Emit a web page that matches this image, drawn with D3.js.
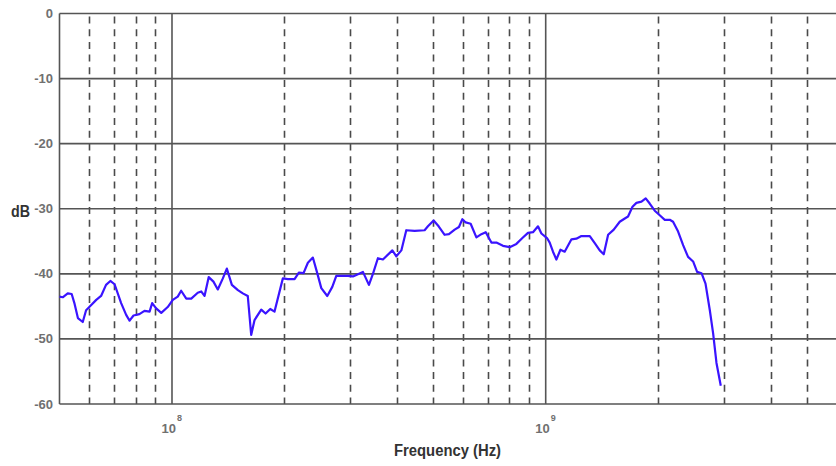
<!DOCTYPE html>
<html>
<head>
<meta charset="utf-8">
<script src="https://cdn.jsdelivr.net/npm/d3@7"></script>
<style>
  html, body { margin: 0; padding: 0; background: #fff; }
  svg { display: block; }
  text { font-family: "Liberation Sans", Arial, sans-serif; }
</style>
</head>
<body>
<svg id="chart" width="836" height="466"></svg>
<script>
// ---- data ----
const freqMHz = [50.0, 51.0, 52.6, 53.9, 54.8, 56.0, 57.7, 58.9, 60.8, 62.7, 64.6, 66.6, 68.4, 70.2, 73.1, 75.4, 77.0, 78.9, 81.8, 84.4,
  87.1, 88.5, 90.7, 93.6, 97.4, 100.5, 103.6, 105.8, 109.2, 112.6, 117.2, 119.7, 122.2, 125.4, 129.1, 132.6, 136.8, 140.2, 144.6, 150.1,
  154.7, 159.5, 162.9, 166.3, 173.3, 178.0, 183.2, 188.1, 198.0, 204.2, 212.8, 218.5, 224.9, 231.0, 238.2, 244.2, 250.9, 260.3, 268.5, 275.2,
  295.6, 304.9, 324.3, 336.5, 344.9, 355.6, 366.8, 388.7, 398.4, 410.9, 423.6, 445.9, 474.2, 484.0, 501.3, 517.0, 536.5, 550.9, 570.7, 586.0,
  598.4, 610.7, 629.8, 652.4, 672.8, 691.0, 715.6, 737.9, 768.6, 801.0, 834.7, 866.2, 896.6, 924.7, 953.7, 973.9, 1008, 1025, 1046, 1068,
  1095, 1124, 1172, 1208, 1246, 1312, 1353, 1395, 1430, 1469, 1521, 1578, 1628, 1661, 1707, 1749, 1804, 1852, 1898, 1958,
  2019, 2083, 2148, 2192, 2261, 2332, 2404, 2480, 2542, 2612, 2677, 2749, 2805, 2864, 2941];
const levelDB = [-43.5, -43.6, -43.0, -43.1, -44.5, -46.8, -47.4, -45.6, -44.8, -44.0, -43.4, -41.7, -41.1, -41.6, -44.5, -46.3, -47.2, -46.4, -46.2, -45.7,
  -45.8, -44.5, -45.3, -46.0, -45.1, -44.0, -43.5, -42.6, -43.8, -43.8, -42.9, -42.7, -43.4, -40.5, -41.2, -42.4, -40.7, -39.2, -41.7, -42.5,
  -43.0, -43.4, -49.4, -47.1, -45.5, -46.1, -45.4, -45.8, -40.7, -40.8, -40.8, -39.8, -39.9, -38.3, -37.5, -39.7, -42.2, -43.4, -42.0, -40.3,
  -40.3, -40.4, -39.7, -41.7, -40.0, -37.6, -37.8, -36.4, -37.3, -36.4, -33.3, -33.4, -33.3, -32.7, -31.8, -32.7, -34.0, -33.9, -33.2, -32.8,
  -31.6, -32.1, -32.3, -34.4, -33.9, -33.6, -35.2, -35.2, -35.7, -35.9, -35.4, -34.5, -33.7, -33.6, -32.7, -33.8, -34.5, -35.2, -36.6, -37.8,
  -36.3, -36.6, -34.7, -34.6, -34.2, -34.2, -35.3, -36.4, -37.0, -34.0, -33.2, -32.0, -31.5, -31.2, -29.7, -29.1, -28.9, -28.4, -29.2, -30.3,
  -31.0, -31.7, -31.7, -32.0, -33.5, -35.6, -37.4, -38.1, -39.7, -39.9, -41.5, -45.6, -49.1, -53.7, -57.2];
const yTicks = [0, -10, -20, -30, -40, -50, -60];
const majorFreqs = [1e8, 1e9];
const majorExps = ["8", "9"];
const minorFreqs = [6e7, 7e7, 8e7, 9e7, 2e8, 3e8, 4e8, 5e8, 6e8, 7e8, 8e8, 9e8, 2e9, 3e9, 4e9, 5e9];
const xDomain = [5e7, 6e9];
const yDomain = [-60, 0];

// ---- layout ----
const mLeft = 59.5, mRight = 836.5, mTop = 13.5, mBottom = 404;
const svg = d3.select("#chart");
const x = d3.scaleLog().domain(xDomain).range([mLeft, mRight]);
const y = d3.scaleLinear().domain(yDomain).range([mBottom, mTop]);

const grid = svg.append("g");
// dashed minor verticals
grid.selectAll("line.minor").data(minorFreqs).join("line")
  .attr("class", "minor")
  .attr("x1", d => Math.round(x(d)) + 0.5).attr("x2", d => Math.round(x(d)) + 0.5)
  .attr("y1", mTop + 3).attr("y2", mBottom)
  .attr("stroke", "#4a4a4a").attr("stroke-width", 1.6)
  .attr("stroke-dasharray", "7,5.7");
// horizontal solid gridlines
grid.selectAll("line.h").data(yTicks).join("line")
  .attr("class", "h")
  .attr("x1", mLeft).attr("x2", 836)
  .attr("y1", d => y(d)).attr("y2", d => y(d))
  .attr("stroke", "#555").attr("stroke-width", 1.6);
// major verticals
grid.selectAll("line.major").data(majorFreqs).join("line")
  .attr("class", "major")
  .attr("x1", d => x(d)).attr("x2", d => x(d))
  .attr("y1", mTop).attr("y2", mBottom)
  .attr("stroke", "#555").attr("stroke-width", 1.6);
// left border
grid.append("line")
  .attr("x1", mLeft).attr("x2", mLeft).attr("y1", mTop).attr("y2", mBottom)
  .attr("stroke", "#555").attr("stroke-width", 1.6);

// y tick labels
svg.append("g").selectAll("text").data(yTicks).join("text")
  .attr("x", 53).attr("y", d => y(d) + 4.5)
  .attr("text-anchor", "end")
  .attr("font-size", 13).attr("font-weight", "bold")
  .attr("fill", "#707070")
  .text(d => d);

// x tick labels (10^n)
const xl = svg.append("g").selectAll("g").data(majorFreqs).join("g")
  .attr("transform", d => `translate(${x(d)},0)`);
xl.append("text")
  .attr("x", -10.5).attr("y", 433)
  .attr("font-size", 13).attr("font-weight", "bold").attr("fill", "#707070")
  .text("10");
xl.append("text")
  .attr("x", 5).attr("y", 421)
  .attr("font-size", 9).attr("font-weight", "bold").attr("fill", "#707070")
  .text((d, i) => majorExps[i]);

// axis titles
svg.append("text").attr("x", 11).attr("y", 217)
  .attr("font-size", 17).attr("font-weight", "bold").attr("fill", "#333")
  .attr("textLength", 19).attr("lengthAdjust", "spacingAndGlyphs")
  .text("dB");
svg.append("text").attr("x", 394).attr("y", 456)
  .attr("font-size", 16).attr("font-weight", "bold").attr("fill", "#333")
  .attr("textLength", 107).attr("lengthAdjust", "spacingAndGlyphs")
  .text("Frequency (Hz)");

// data line
const pts = freqMHz.map((f, i) => [f * 1e6, levelDB[i]]);
svg.append("path")
  .datum(pts)
  .attr("fill", "none")
  .attr("stroke", "#3a14ff")
  .attr("stroke-width", 2.2)
  .attr("stroke-linejoin", "round")
  .attr("d", d3.line().x(d => x(d[0])).y(d => y(d[1])));
</script>
</body>
</html>
